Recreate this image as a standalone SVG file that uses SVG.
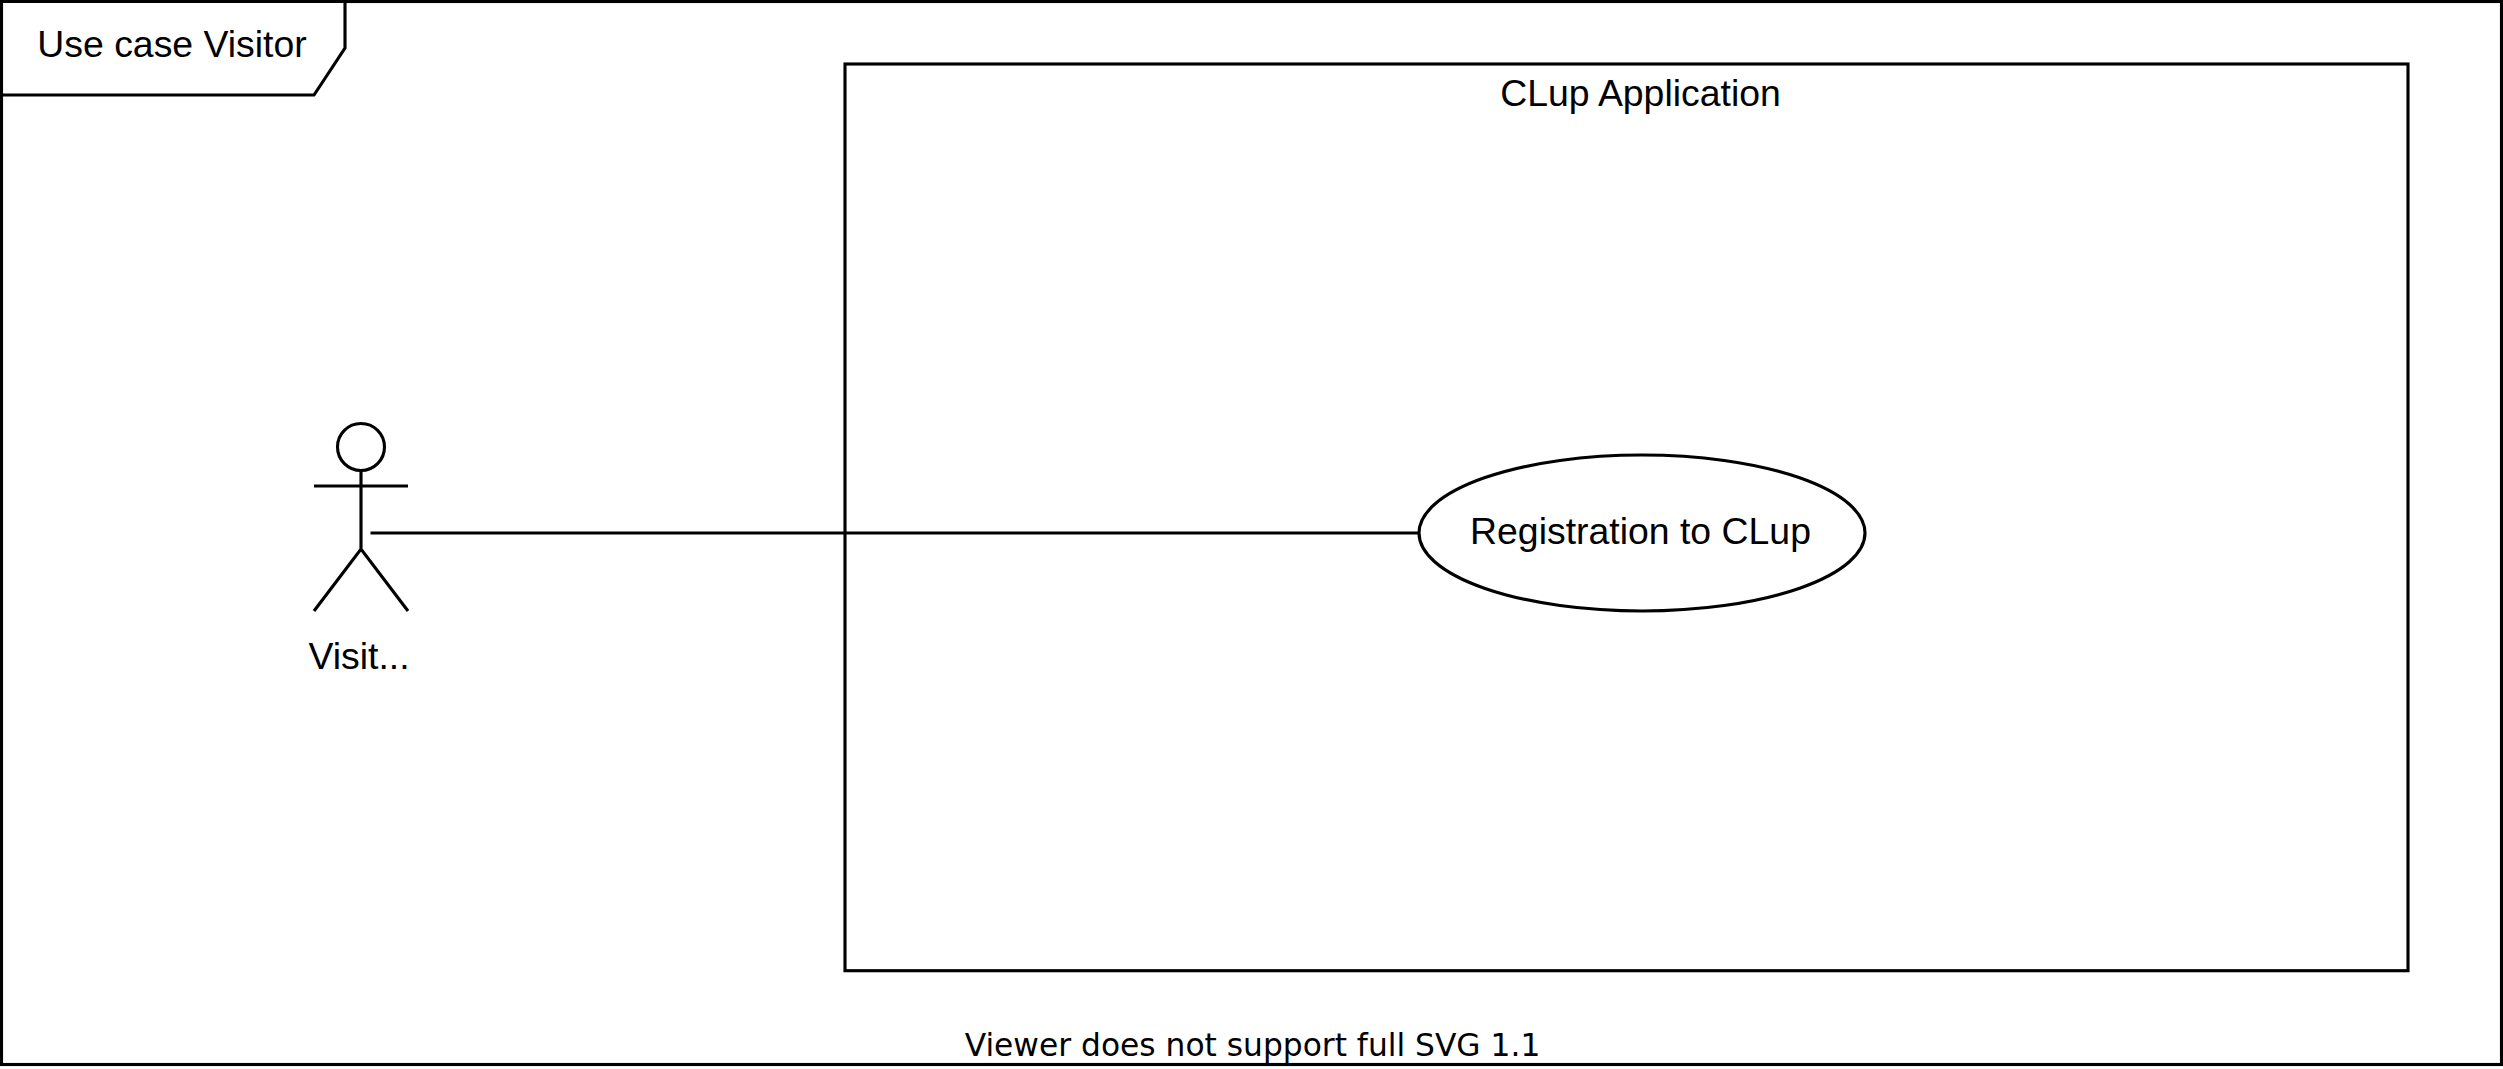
<svg xmlns="http://www.w3.org/2000/svg" width="2503" height="1069" viewBox="0 0 2503 1069">
<style>
.s{fill:none;stroke:#000;stroke-width:3.13;stroke-miterlimit:10}
.w{fill:#fff;stroke:#000;stroke-width:3.13;stroke-miterlimit:10}
.t{font-family:"Liberation Sans",Arial,sans-serif;font-size:37.4px;fill:#000;text-anchor:middle}
</style>
<rect width="2503" height="1069" fill="#fff"/>
<g id="frame">
<rect class="s" x="1.5" y="1.5" width="2500" height="1063"/>
<path class="w" d="M1.5 1.5H345V48L314 95H1.5Z"/>
<text class="t" x="172" y="57">Use case Visitor</text>
</g>
<g id="system">
<rect class="s" x="845" y="64" width="1563" height="906.7"/>
<text class="t" x="1640.5" y="106">CLup Application</text>
</g>
<g id="connectors">
<path class="s" d="M370.5 533H1418.5"/>
</g>
<g id="actor-visitor">
<ellipse class="s" cx="361" cy="447" rx="23.5" ry="23.5"/>
<path class="s" d="M361 471V549M314 486H408M314 611L361 549L408 611"/>
<text class="t" x="359" y="668.5">Visit...</text>
</g>
<g id="usecase-registration">
<ellipse class="w" cx="1642" cy="533" rx="223" ry="78"/>
<text class="t" x="1640.5" y="544">Registration to CLup</text>
</g>
<text x="1252.5" y="1056" font-family="'DejaVu Sans',sans-serif" font-size="31.3" text-anchor="middle" fill="#000">Viewer does not support full SVG 1.1</text>
</svg>
